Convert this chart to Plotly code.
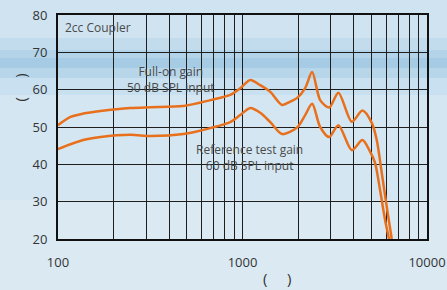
import plotly.graph_objects as go

# Full-on gain, 50 dB SPL input
full_freq = [100, 117, 137, 170, 247, 317, 478, 670, 858, 972, 1102, 1248, 1415, 1640, 1814,
             1980, 2186, 2385, 2636, 2949, 3311, 3913, 4466, 5020, 5341, 5686, 6052, 6442]
full_gain = [50.5, 52.7, 53.6, 54.3, 55.1, 55.3, 55.6, 57.2, 58.6, 60.4, 62.6, 61.2, 59.4, 55.9, 56.8,
             57.8, 60.4, 64.7, 57.2, 55.2, 59.2, 51.4, 54.4, 51.1, 46.5, 37.7, 28.6, 20.0]

# Reference test gain, 60 dB SPL input
ref_freq = [100, 137, 170, 247, 317, 478, 670, 858, 972, 1102, 1248, 1415, 1640, 1980,
            2186, 2385, 2636, 2949, 3311, 3913, 4466, 4915, 5230, 5567, 5926, 6228]
ref_gain = [44.1, 46.5, 47.3, 47.9, 47.6, 48.1, 49.7, 51.3, 53.2, 55.1, 53.8, 51.3, 48.1, 49.9,
            53.2, 56.2, 50.0, 47.3, 50.5, 43.8, 46.5, 43.4, 40.4, 33.1, 25.1, 20.0]

x_tickvals = [100, 1000, 10000]
x_ticktext = ["100", "1000", "10000"]
y_tickvals = [20, 30, 40, 50, 60, 70, 80]

ORANGE = "#e8701c"
FONT = "Open Sans"
W, H = 447, 290
ML, MR, MT, MB = 57.5, 20, 15, 51
PW, PH = W - ML - MR, H - MT - MB


def px_x(px):
    return (px - ML) / PW


def px_y(py):
    return (H - MB - py) / PH


fig = go.Figure()
for xs, ys in [(full_freq, full_gain), (ref_freq, ref_gain)]:
    fig.add_trace(go.Scatter(x=xs, y=ys, mode="lines",
                             line=dict(color=ORANGE, width=2.5, shape="spline", smoothing=0.8),
                             showlegend=False, hoverinfo="skip"))

# background bands approximating the light-blue backdrop (pixel rows)
bands = [(0, 38, "#cfe3f0"), (38, 50, "#c2dced"), (50, 58, "#b2d3e8"), (58, 68, "#a6cce5"),
         (68, 78, "#b7d6ea"), (78, 95, "#c8e0ef"), (95, 200, "#d3e6f2"), (200, 290, "#dae9f2")]
shapes = []
for y0, y1, c in bands:
    shapes.append(dict(type="rect", xref="paper", yref="paper", x0=px_x(-5), x1=px_x(W + 5),
                       y0=px_y(y1), y1=px_y(y0), fillcolor=c, line=dict(width=0), layer="below"))

fig.update_layout(
    width=W, height=H,
    margin=dict(l=ML, r=MR, t=MT, b=MB, autoexpand=False),
    paper_bgcolor="#d4e6f2",
    plot_bgcolor="rgba(0,0,0,0)",
    font=dict(family=FONT, size=13, color="#333333"),
    xaxis=dict(type="log", range=[2, 4], tickvals=x_tickvals, ticktext=x_ticktext,
               showgrid=True, gridcolor="#1e1e1e", gridwidth=1, automargin=False,
               minor=dict(showgrid=True, gridcolor="#1e1e1e", gridwidth=1,
                          tickvals=[200, 300, 400, 500, 600, 700, 800, 900,
                                    2000, 3000, 4000, 5000, 6000, 7000, 8000, 9000]),
               showline=True, linecolor="#111111", linewidth=2, mirror=True,
               ticks="outside", ticklen=10, tickcolor="rgba(0,0,0,0)", zeroline=False),
    yaxis=dict(range=[20, 80], tickvals=y_tickvals, automargin=False,
               showgrid=True, gridcolor="#1e1e1e", gridwidth=1,
               showline=True, linecolor="#111111", linewidth=2, mirror=True,
               ticks="outside", ticklen=6, tickcolor="rgba(0,0,0,0)", zeroline=False),
    shapes=shapes,
)

ann = [
    ("2cc Coupler", 63, 27, "left", 12),
    ("Full-on gain<br>50 dB SPL input", 171, 79, "center", 12),
    ("Reference test gain<br>60 dB SPL input", 249, 157, "center", 12),
]
for text, x, y, xa, size in ann:
    fig.add_annotation(text=text, xref="paper", yref="paper", x=px_x(x), y=px_y(y),
                       xanchor=xa, yanchor="middle", showarrow=False, align="center",
                       font=dict(family=FONT, size=size, color="#4a4a4a"))

fig.add_annotation(text="(     )", xref="paper", yref="paper", x=px_x(277), y=px_y(278),
                   xanchor="center", yanchor="middle", showarrow=False,
                   font=dict(family=FONT, size=15, color="#333333"))
fig.add_annotation(text="(     )", xref="paper", yref="paper", x=px_x(19), y=px_y(88),
                   xanchor="center", yanchor="middle", showarrow=False, textangle=-90,
                   font=dict(family=FONT, size=15, color="#333333"))

fig.write_html("out.html", config={"displayModeBar": False},
               post_script="document.body.style.margin='0';document.body.style.overflow='hidden';")
